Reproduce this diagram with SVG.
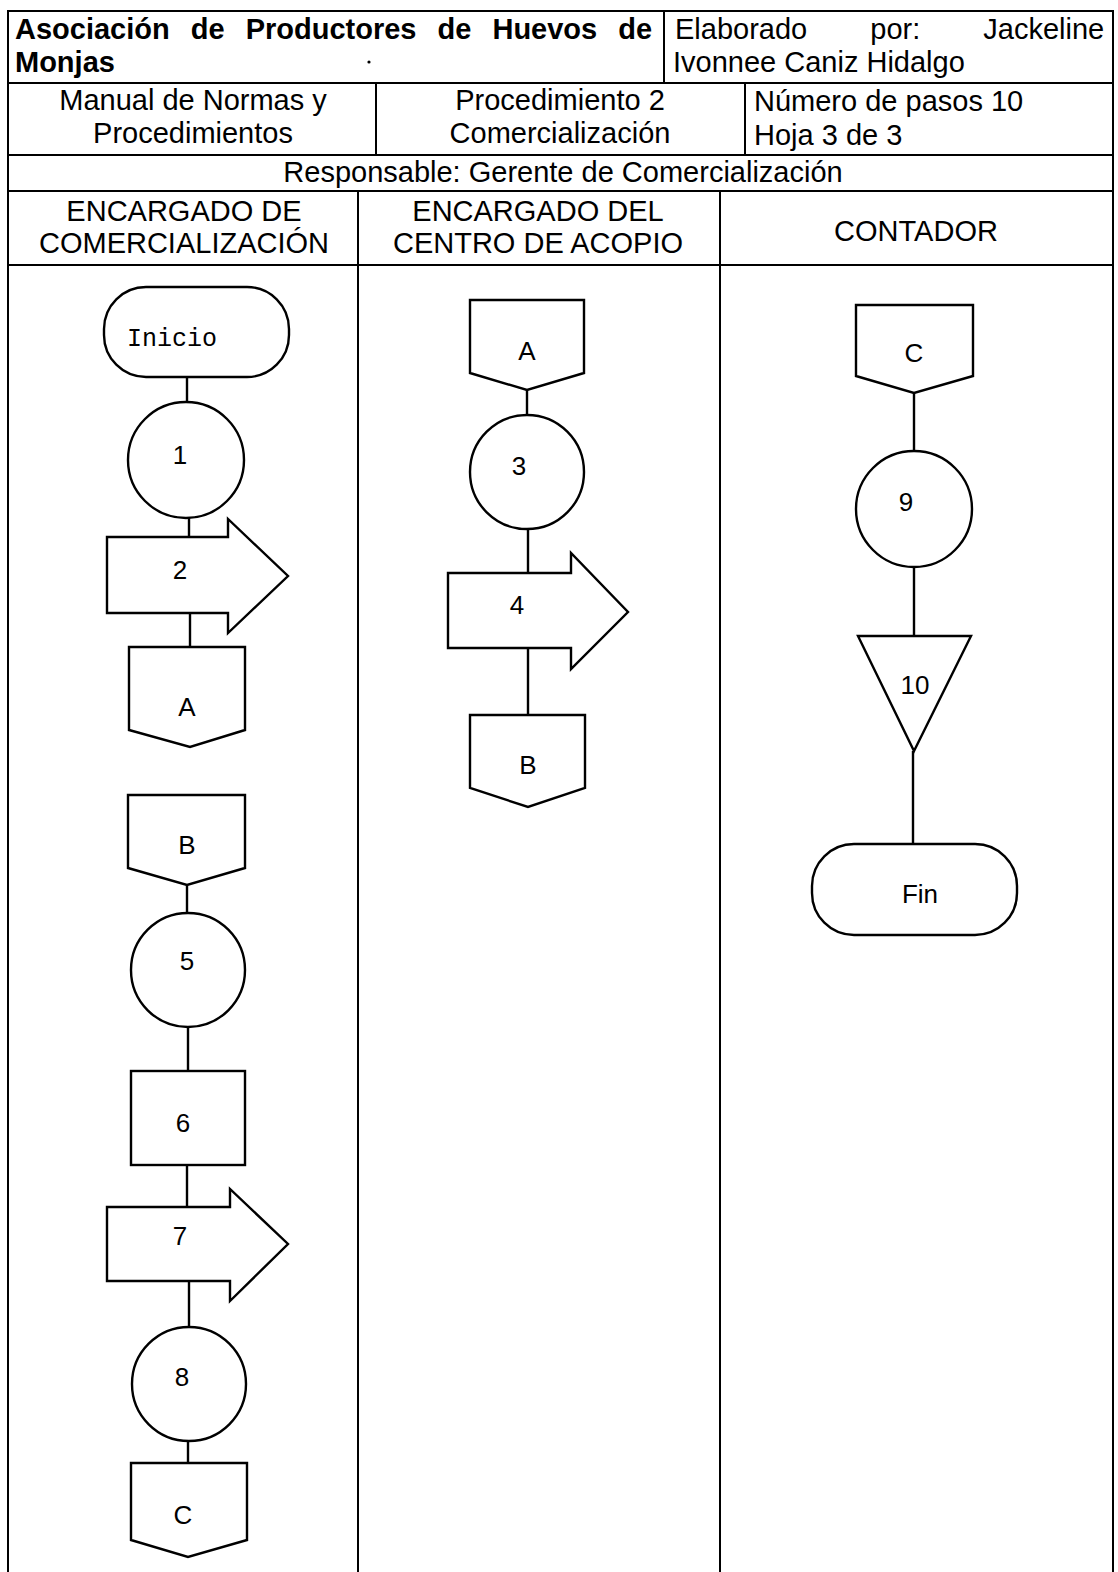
<svg xmlns="http://www.w3.org/2000/svg" width="1118" height="1572" viewBox="0 0 1118 1572">
<style>
  .t { font-family: "Liberation Sans", Arial, sans-serif; font-size: 29px; fill: #000; }
  .b { font-weight: bold; }
  .c { text-anchor: middle; }
  .lbl { font-family: "Liberation Sans", Arial, sans-serif; font-size: 26px; fill: #000; text-anchor: middle; }
  .mono { font-family: "Liberation Mono", "Courier New", monospace; font-size: 25px; fill: #000; text-anchor: middle; }
  .grid { stroke: #000; stroke-width: 2; fill: none; }
  .shape { stroke: #000; stroke-width: 2.4; fill: #fff; }
  .conn { stroke: #000; stroke-width: 2.4; fill: none; }
</style>
<rect x="0" y="0" width="1118" height="1572" fill="#fff"/>

<g id="table">
  <rect class="grid" x="8" y="11" width="1105" height="1570"/>
  <line class="grid" x1="8" y1="83" x2="1113" y2="83"/>
  <line class="grid" x1="8" y1="155" x2="1113" y2="155"/>
  <line class="grid" x1="8" y1="191" x2="1113" y2="191"/>
  <line class="grid" x1="8" y1="265" x2="1113" y2="265"/>
  <line class="grid" x1="664" y1="11" x2="664" y2="83"/>
  <line class="grid" x1="376" y1="83" x2="376" y2="155"/>
  <line class="grid" x1="745" y1="83" x2="745" y2="155"/>
  <line class="grid" x1="358" y1="191" x2="358" y2="1572"/>
  <line class="grid" x1="720" y1="191" x2="720" y2="1572" stroke-width="3.5"/>
  <circle cx="369" cy="62" r="1.6" fill="#000"/>

  <text class="t b" x="15" y="39" word-spacing="13">Asociación de Productores de Huevos de</text>
  <text class="t b" x="15" y="72">Monjas</text>
  <text class="t" x="675" y="39" word-spacing="55">Elaborado por: Jackeline</text>
  <text class="t" x="673" y="72">Ivonnee Caniz Hidalgo</text>

  <text class="t c" x="193" y="110">Manual de Normas y</text>
  <text class="t c" x="193" y="143">Procedimientos</text>
  <text class="t c" x="560" y="110">Procedimiento 2</text>
  <text class="t c" x="560" y="143">Comercialización</text>
  <text class="t" x="754" y="111">Número de pasos 10</text>
  <text class="t" x="754" y="145">Hoja 3 de 3</text>

  <text class="t c" x="563" y="182">Responsable: Gerente de Comercialización</text>

  <text class="t c" x="184" y="221">ENCARGADO DE</text>
  <text class="t c" x="184" y="253">COMERCIALIZACIÓN</text>
  <text class="t c" x="538" y="221">ENCARGADO DEL</text>
  <text class="t c" x="538" y="253">CENTRO DE ACOPIO</text>
  <text class="t c" x="916" y="241">CONTADOR</text>
</g>

<g id="connectors">
  <line class="conn" x1="187" y1="377" x2="187" y2="402"/>
  <line class="conn" x1="189" y1="518" x2="189" y2="537"/>
  <line class="conn" x1="190" y1="613" x2="190" y2="647"/>
  <line class="conn" x1="187" y1="885" x2="187" y2="913"/>
  <line class="conn" x1="188" y1="1027" x2="188" y2="1071"/>
  <line class="conn" x1="187" y1="1165" x2="187" y2="1207"/>
  <line class="conn" x1="189" y1="1281" x2="189" y2="1327"/>
  <line class="conn" x1="188" y1="1441" x2="188" y2="1463"/>
  <line class="conn" x1="527" y1="390" x2="527" y2="415"/>
  <line class="conn" x1="528" y1="529" x2="528" y2="573"/>
  <line class="conn" x1="528" y1="648" x2="528" y2="715"/>
  <line class="conn" x1="914" y1="393" x2="914" y2="451"/>
  <line class="conn" x1="914" y1="567" x2="914" y2="636"/>
  <line class="conn" x1="913" y1="751" x2="913" y2="844" stroke-width="3"/>
</g>

<g id="inicio">
  <rect class="shape" x="104" y="287" width="185" height="90" rx="42" ry="42"/>
  <text class="mono" x="172" y="346">Inicio</text>
</g>
<g id="step1">
  <circle class="shape" cx="186" cy="460" r="58"/>
  <text class="lbl" x="180" y="464">1</text>
</g>
<g id="step2">
  <polygon class="shape" points="107,537 228,537 228,519 288,576 228,633 228,613 107,613"/>
  <text class="lbl" x="180" y="579">2</text>
</g>
<g id="connA1">
  <polygon class="shape" points="129,647 245,647 245,730 190,747 129,730"/>
  <text class="lbl" x="187" y="716">A</text>
</g>
<g id="connB1">
  <polygon class="shape" points="128,795 245,795 245,868 187,885 128,868"/>
  <text class="lbl" x="187" y="854">B</text>
</g>
<g id="step5">
  <circle class="shape" cx="188" cy="970" r="57"/>
  <text class="lbl" x="187" y="970">5</text>
</g>
<g id="step6">
  <rect class="shape" x="131" y="1071" width="114" height="94"/>
  <text class="lbl" x="183" y="1132">6</text>
</g>
<g id="step7">
  <polygon class="shape" points="107,1207 230,1207 230,1189 288,1244 230,1301 230,1281 107,1281"/>
  <text class="lbl" x="180" y="1245">7</text>
</g>
<g id="step8">
  <circle class="shape" cx="189" cy="1384" r="57"/>
  <text class="lbl" x="182" y="1386">8</text>
</g>
<g id="connC1">
  <polygon class="shape" points="131,1463 247,1463 247,1540 188,1557 131,1540"/>
  <text class="lbl" x="183" y="1524">C</text>
</g>

<g id="connA2">
  <polygon class="shape" points="470,300 584,300 584,373 527,390 470,373"/>
  <text class="lbl" x="527" y="360">A</text>
</g>
<g id="step3">
  <circle class="shape" cx="527" cy="472" r="57"/>
  <text class="lbl" x="519" y="475">3</text>
</g>
<g id="step4">
  <polygon class="shape" points="448,573 571,573 571,553 628,612 571,669 571,648 448,648"/>
  <text class="lbl" x="517" y="614">4</text>
</g>
<g id="connB2">
  <polygon class="shape" points="470,715 585,715 585,788 528,807 470,788"/>
  <text class="lbl" x="528" y="774">B</text>
</g>

<g id="connC3">
  <polygon class="shape" points="856,305 973,305 973,376 914,393 856,376"/>
  <text class="lbl" x="914" y="362">C</text>
</g>
<g id="step9">
  <circle class="shape" cx="914" cy="509" r="58"/>
  <text class="lbl" x="906" y="511">9</text>
</g>
<g id="step10">
  <polygon class="shape" points="858,636 971,636 914,751"/>
  <text class="lbl" x="915" y="694">10</text>
</g>
<g id="fin">
  <rect class="shape" x="812" y="844" width="205" height="91" rx="42" ry="42"/>
  <text class="lbl" x="920" y="903">Fin</text>
</g>
</svg>
